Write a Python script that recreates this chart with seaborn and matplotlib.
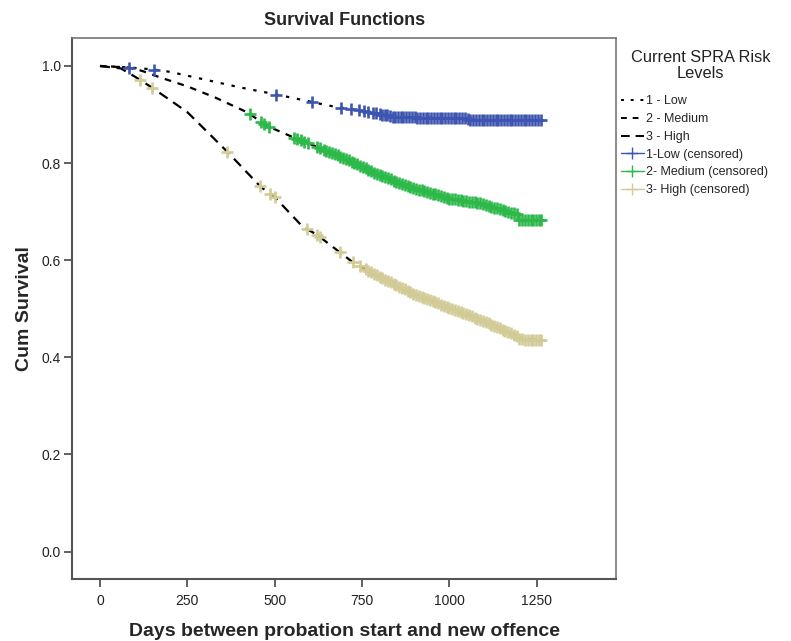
import numpy as np
import matplotlib
matplotlib.use("Agg")
import matplotlib.pyplot as plt
from matplotlib.lines import Line2D
import seaborn as sns

# Kaplan-Meier curves (days, cumulative survival)
low_t = [0, 60, 100, 150, 200, 300, 400, 500, 600, 650, 700, 775, 800, 845, 900, 1000, 1050, 1060, 1265]
low_s = [1.0, 0.998, 0.996, 0.993, 0.988, 0.972, 0.956, 0.942, 0.927, 0.919, 0.913, 0.905, 0.901, 0.895, 0.894, 0.893, 0.892, 0.889, 0.889]

med_t = [0, 80, 120, 170, 250, 330, 420, 480, 560, 630, 700, 800, 900, 1000, 1090, 1165, 1195, 1200, 1265]
med_s = [1.0, 0.997, 0.99, 0.977, 0.958, 0.935, 0.905, 0.876, 0.851, 0.831, 0.81, 0.775, 0.748, 0.727, 0.717, 0.70, 0.695, 0.683, 0.683]

high_t = [0, 60, 100, 150, 250, 365, 460, 500, 580, 620, 725, 800, 900, 1000, 1090, 1165, 1190, 1200, 1265]
high_s = [1.0, 0.995, 0.978, 0.955, 0.905, 0.823, 0.751, 0.73, 0.669, 0.653, 0.595, 0.566, 0.53, 0.502, 0.477, 0.453, 0.445, 0.437, 0.436]

# censored observation times
low_cens = [83, 155, 505, 607, 690, 718, 740, 755, 768, 780, 790, 800, 808, 815, 822, 830,
            838, 845, 852, 860, 868, 876, 884, 892, 900, 908, 916, 924, 932, 940, 948, 956,
            964, 972, 980, 988, 996, 1004, 1012, 1020, 1028, 1036, 1044, 1052, 1060, 1068,
            1076, 1084, 1092, 1100, 1108, 1116, 1124, 1132, 1140, 1148, 1156, 1164, 1172,
            1180, 1188, 1196, 1204, 1212, 1220, 1228, 1236, 1244, 1252, 1262]
med_cens = [430, 460, 470, 483, 555, 565, 575, 585, 595, 622, 630, 640, 648, 655, 664, 672,
            680, 688, 696, 704, 712, 720, 728, 736, 744, 752, 760, 768, 776, 784, 792, 800,
            808, 816, 824, 832, 840, 848, 856, 864, 872, 880, 888, 896, 904, 912, 920, 928,
            936, 944, 952, 960, 968, 976, 984, 992, 1000, 1008, 1016, 1024, 1032, 1040, 1048,
            1056, 1064, 1072, 1080, 1088, 1096, 1104, 1112, 1120, 1128, 1136, 1144, 1152,
            1160, 1168, 1176, 1184, 1192, 1200, 1208, 1216, 1224, 1232, 1240, 1248, 1256, 1262]
high_cens = [115, 149, 364, 458, 487, 500, 592, 621, 630, 687, 724, 744, 760, 768, 776, 784,
             792, 800, 808, 816, 824, 832, 840, 848, 856, 864, 872, 880, 888, 896, 904, 912,
             920, 928, 936, 944, 952, 960, 968, 976, 984, 992, 1000, 1008, 1016, 1024, 1032,
             1040, 1048, 1056, 1064, 1072, 1080, 1088, 1096, 1104, 1112, 1120, 1128, 1136,
             1144, 1152, 1160, 1168, 1176, 1184, 1192, 1200, 1208, 1216, 1224, 1232, 1240,
             1248, 1256, 1262]

groups = ["1 - Low", "2 - Medium", "3 - High"]
cens_labels = ["1-Low (censored)", "2- Medium (censored)", "3- High (censored)"]
colors = ["#3d55b0", "#2db84a", "#d3cb97"]
dashes = [(0, (1.5, 3.5)), (0, (3, 3)), (0, (4.5, 3))]

sns.set_style("white")
plt.rcParams["font.family"] = ["Liberation Sans", "DejaVu Sans"]

fig = plt.figure(figsize=(7.91, 6.41), dpi=100)
ax = fig.add_axes([0.091, 0.097, 0.688, 0.844])

curves = [(low_t, low_s, low_cens), (med_t, med_s, med_cens), (high_t, high_s, high_cens)]
for (t, s, c), col, ls in zip(curves, colors, dashes):
    sns.lineplot(x=t, y=s, ax=ax, color="black", linewidth=1.6, linestyle=ls, sort=False)
    cy = np.interp(c, t, s)
    ax.scatter(c, cy, marker="+", s=80, color=col, linewidths=1.9, zorder=3)

ax.set_xlim(-80, 1477)
ax.set_ylim(-0.056, 1.058)
ax.set_xticks([0, 250, 500, 750, 1000, 1250])
ax.set_yticks([0.0, 0.2, 0.4, 0.6, 0.8, 1.0])
ax.set_yticklabels(["0.0", "0.2", "0.4", "0.6", "0.8", "1.0"])
ax.tick_params(axis="both", direction="out", length=6, width=1.3, color="#555555",
               labelsize=10, labelcolor="#222222", pad=2, bottom=True, left=True)
ax.tick_params(axis="x", pad=5)
for side in ["left", "bottom"]:
    ax.spines[side].set_color("#555555")
    ax.spines[side].set_linewidth(1.5)
for side in ["top", "right"]:
    ax.spines[side].set_color("#777777")
    ax.spines[side].set_linewidth(1.2)

ax.set_title("Survival Functions", fontsize=13, fontweight="bold", pad=9)
ax.set_xlabel("Days between probation start and new offence", fontsize=14, fontweight="bold", labelpad=11)
ax.set_ylabel("Cum Survival", fontsize=14, fontweight="bold", labelpad=6)

fig.text(0.886, 0.898, "Current SPRA Risk\nLevels", ha="center", va="center",
         fontsize=11.8, color="#222222", linespacing=1.1)
handles = [Line2D([], [], color="black", linestyle=ls, linewidth=1.4) for ls in dashes]
handles += [Line2D([], [], color=col, marker="+", markersize=9, linewidth=1) for col in colors]
leg = fig.legend(handles, groups + cens_labels,
                 loc="upper left", bbox_to_anchor=(0.779, 0.859), frameon=False,
                 fontsize=9, handlelength=1.8, handletextpad=0.2,
                 labelspacing=0.46, borderaxespad=0)

fig.savefig("out.png", dpi=100)
